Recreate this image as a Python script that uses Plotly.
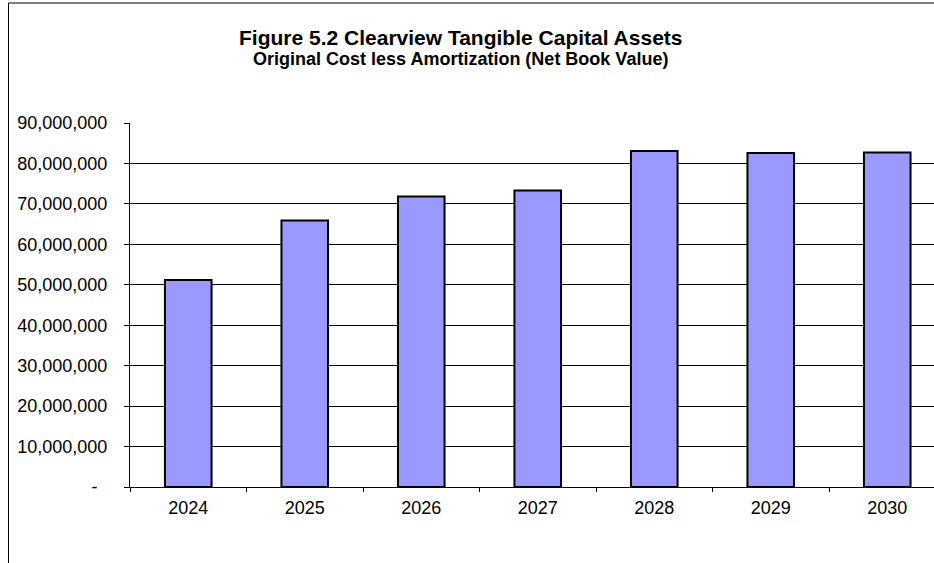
import plotly.graph_objects as go

# Net book value of tangible capital assets by year
years = ["2024", "2025", "2026", "2027", "2028", "2029", "2030"]
net_book_value = [51_200_000, 65_900_000, 71_800_000, 73_300_000, 83_100_000, 82_600_000, 82_700_000]

y_tick_values = [0, 10_000_000, 20_000_000, 30_000_000, 40_000_000,
                 50_000_000, 60_000_000, 70_000_000, 80_000_000, 90_000_000]
y_tick_labels = ["-\u00a0\u00a0", "10,000,000", "20,000,000", "30,000,000", "40,000,000",
                 "50,000,000", "60,000,000", "70,000,000", "80,000,000", "90,000,000"]

title_text = "Figure 5.2 Clearview Tangible Capital Assets"
subtitle_text = "Original Cost less Amortization (Net Book Value)"

W, H = 934, 563
M_L, M_R, M_T, M_B = 130, 0, 123, 76
PW, PH = W - M_L - M_R, H - M_T - M_B
CAT_W = 116.5  # pixel width of one category slot


def px_x(px):
    return (px - M_L) / PW


def px_y(py):
    return (H - M_B - py) / PH


FONT = "Liberation Sans, Arial, sans-serif"

fig = go.Figure(
    go.Bar(
        x=years,
        y=net_book_value,
        marker=dict(color="#9999FF", line=dict(color="#000000", width=2)),
        width=0.4,
    )
)

fig.update_layout(
    width=W,
    height=H,
    margin=dict(l=M_L, r=M_R, t=M_T, b=M_B, pad=0),
    paper_bgcolor="white",
    plot_bgcolor="white",
    showlegend=False,
    font=dict(family=FONT, color="#000000", size=18),
    xaxis=dict(
        type="category",
        range=[-0.5, PW / CAT_W - 0.5],
        showgrid=False,
        showline=True,
        linecolor="#000000",
        linewidth=1,
        ticks="outside",
        tickson="boundaries",
        ticklen=4,
        tickcolor="#000000",
        ticklabelstandoff=4,
        tickfont=dict(family=FONT, size=18, color="#000000"),
        zeroline=False,
    ),
    yaxis=dict(
        range=[0, 90_000_000],
        tickvals=y_tick_values,
        ticktext=y_tick_labels,
        showgrid=True,
        gridcolor="#000000",
        gridwidth=1,
        showline=True,
        linecolor="#000000",
        linewidth=1,
        ticks="outside",
        ticklen=5,
        tickcolor="#000000",
        ticklabelstandoff=13,
        tickfont=dict(family=FONT, size=18, color="#000000"),
        zeroline=False,
    ),
    annotations=[
        dict(text="<b>" + title_text + "</b>", xref="paper", yref="paper",
             x=px_x(460), y=px_y(38), xanchor="center", yanchor="middle",
             showarrow=False, font=dict(family=FONT, size=21, color="#000000")),
        dict(text="<b>" + subtitle_text + "</b>", xref="paper", yref="paper",
             x=px_x(460), y=px_y(59), xanchor="center", yanchor="middle",
             showarrow=False, font=dict(family=FONT, size=18, color="#000000")),
    ],
    shapes=[
        # chart frame: left and top edges
        dict(type="line", xref="paper", yref="paper",
             x0=px_x(8.5), x1=px_x(8.5), y0=px_y(3), y1=px_y(H + 2),
             line=dict(color="#000000", width=1)),
        dict(type="line", xref="paper", yref="paper",
             x0=px_x(8.5), x1=px_x(W + 2), y0=px_y(3), y1=px_y(3),
             line=dict(color="#000000", width=1)),
    ],
)

fig.write_html("out.html")
